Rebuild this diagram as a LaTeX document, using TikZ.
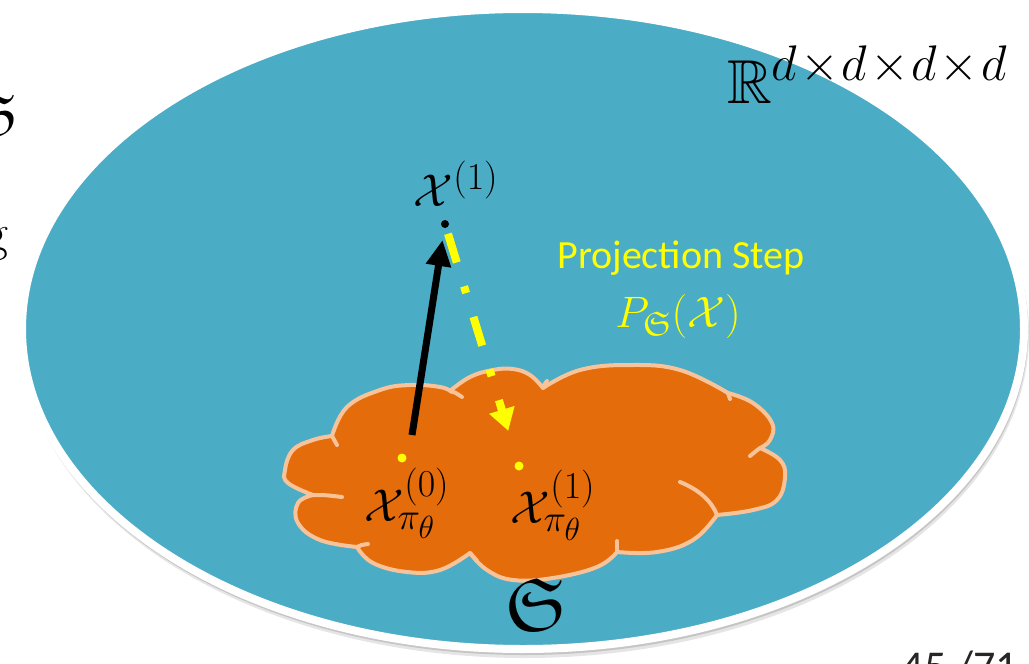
\RequirePackage{fix-cm}
\documentclass[tikz,border=0pt]{standalone}
\usepackage{amssymb}
\usepackage{fontspec}
\newfontfamily\calibri{Carlito}
\usetikzlibrary{arrows.meta}
\DeclareMathSizes{46}{46}{38}{32}
\DeclareMathSizes{44}{44}{34}{27}
\DeclareMathSizes{62}{62}{50}{40}
\definecolor{sea}{HTML}{4BACC6}
\definecolor{cloudfill}{HTML}{E46C0A}
\definecolor{cloudedge}{HTML}{F9C39A}
\definecolor{yel}{HTML}{FFFF00}
\tikzset{
  cloudline/.style={draw=cloudedge, line width=4pt, line cap=round, line join=round},
  mathlbl/.style={inner sep=0pt, font=\fontsize{46}{50}\selectfont},
  ydot/.style={circle, fill=yel, inner sep=0pt, minimum size=9pt},
  bdot/.style={circle, fill=black, inner sep=0pt, minimum size=8pt},
}
\begin{document}
\begin{tikzpicture}[x=1pt,y=-1pt]
\useasboundingbox (0,0) rectangle (1029,664);
\clip (0,0) rectangle (1029,664);
% shadow of the ellipse
\fill[black, opacity=.10] (525,334) ellipse [x radius=504pt, y radius=324pt];
\fill[black, opacity=.14] (524,332) ellipse [x radius=504pt, y radius=323pt];
% the space
\filldraw[fill=sea, draw=white, line width=8pt] (523,329) ellipse [x radius=501pt, y radius=320pt];
% the cloud
\filldraw[cloudline, fill=cloudfill]
  plot[smooth, tension=.7] coordinates {(332,436) (347,407) (380,390) (410,385) (440,387) (452,392)}
  -- plot[smooth, tension=.7] coordinates {(450,391) (470,377) (493,370) (513,369) (530,375) (543,388)}
  -- plot[smooth, tension=.7] coordinates {(543,388) (580,370) (630,365) (680,370) (728,393)}
  -- plot[smooth, tension=.7] coordinates {(728,393) (753,403) (772,423) (770,440) (760,448)}
  -- plot[smooth, tension=.7] coordinates {(760,448) (780,460) (785,477) (777,500) (753,510) (717,515)}
  -- plot[smooth, tension=.7] coordinates {(717,515) (693,540) (657,552) (617,552)}
  -- plot[smooth, tension=.7] coordinates {(617,552) (597,567) (553,578) (513,580) (487,570) (470,553)}
  -- plot[smooth, tension=.7] coordinates {(470,553) (440,570) (407,572) (373,563) (357,547)}
  -- plot[smooth, tension=.7] coordinates {(357,547) (320,540) (298,523) (298,503) (313,495)}
  -- plot[smooth, tension=.7] coordinates {(313,495) (288,483) (285,470) (293,450) (313,440) (332,436)}
  -- cycle;
% inner arcs of the cloud
\draw[cloudline] (451,391) .. controls (456,393) .. (462,397);
\draw[cloudline] (543,388) .. controls (544,385) .. (547,381);
\draw[cloudline] (728,393) .. controls (729,396) .. (730,399);
\draw[cloudline] (760,448) .. controls (756,451) .. (750,456);
\draw[cloudline] (680,482) .. controls (700,490) and (712,502) .. (717,515);
\draw[cloudline] (617,552) .. controls (617,547) .. (617,541);
\draw[cloudline] (470,553) .. controls (473,556) .. (477,561);
\draw[cloudline] (357,547) .. controls (361,545) .. (368,544);
\draw[cloudline] (313,495) .. controls (325,495) .. (342,497);
\draw[cloudline] (332,436) .. controls (334,440) .. (337,445);
% points
\node[bdot] (x1dot) at (445,224) {};
\node[ydot] (x0pt) at (402,458) {};
\node[ydot] (x1pt) at (519,466) {};
\coordinate (blackstart) at (412,435);
% gradient step
\draw[line width=7pt, -{Triangle[length=26pt,width=24pt]}, shorten >=12pt] (blackstart) -- (x1dot);
% projection step
\draw[yel, line width=8pt, dash pattern=on 30pt off 25pt on 7pt off 25pt,
      -{Triangle[length=22pt,width=25pt]}, shorten <=6pt, shorten >=32pt] (x1dot) -- (x1pt);
% labels
\node[mathlbl] (x1lbl) at (456,184) {$\mathcal{X}^{(1)}$};
\node[mathlbl] (x0pilbl) at (407,503) {$\mathcal{X}^{(0)}_{\pi_\theta}$};
\node[mathlbl] (x1pilbl) at (553,505) {$\mathcal{X}^{(1)}_{\pi_\theta}$};
\node[inner sep=0pt, font=\fontsize{75}{80}\selectfont] (manifold) at (537,605) {$\mathfrak{S}$};
\node[inner sep=0pt, anchor=base, text=yel, font=\calibri\fontsize{40}{44}\selectfont] (projtxt) at (681,268) {Projection Step};
\node[inner sep=0pt, text=yel, font=\fontsize{44}{48}\selectfont] (projop) at (678,316) {$P_{\mathfrak{S}}(\mathcal{X})$};
\node[inner sep=0pt, anchor=base west, font=\fontsize{62}{66}\selectfont] (space) at (727,103)
  {$\mathbb{R}^{d\mkern1mu\times\mkern1mu d\mkern1mu\times\mkern1mu d\mkern1mu\times\mkern1mu d}$};
% cut-off slide texts
\node[inner sep=0pt, anchor=east, font=\fontsize{62}{66}\selectfont] (leftS) at (19,115) {$\mathfrak{S}$};
\node[inner sep=0pt, anchor=base east, font=\fontsize{52}{56}\selectfont] (leftg) at (9,250) {g};
\node[inner sep=0pt, anchor=base, text=black!85, font=\calibri\fontsize{44}{48}\selectfont] (pagenum) at (960,681) {45 /71};
\end{tikzpicture}
\end{document}
